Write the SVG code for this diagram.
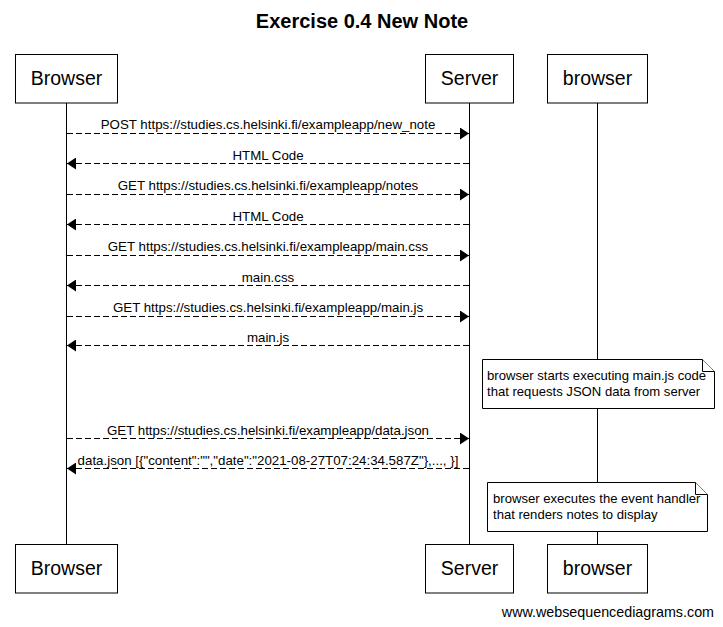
<svg xmlns="http://www.w3.org/2000/svg" width="723" height="627" viewBox="0 0 723 627">
<defs>
<style>
.box{fill:#fff;stroke:#000;stroke-width:1}
.life{stroke:#000;stroke-width:1}
.pt{font-family:"Liberation Sans",Arial,sans-serif;font-size:19.5px;text-anchor:middle;fill:#000}
.msg{stroke:#000;stroke-width:1;stroke-dasharray:6,3;fill:none}
.ml{font-family:"Liberation Sans",Arial,sans-serif;font-size:13.3px;text-anchor:middle;fill:#000}
.nt{font-family:"Liberation Sans",Arial,sans-serif;font-size:13.1px;fill:#000}
.note{fill:#fff;stroke:#000;stroke-width:1}
</style>
<marker id="ah" viewBox="0 0 9 12" refX="9" refY="6" markerWidth="9" markerHeight="12" markerUnits="userSpaceOnUse" orient="auto">
<path d="M0,0 L9,6 L0,12 Z" fill="#000"/>
</marker>
</defs>
<rect width="723" height="627" fill="#fff"/>
<text x="362" y="28" font-family="'Liberation Sans',Arial,sans-serif" font-size="20" font-weight="bold" text-anchor="middle">Exercise 0.4 New Note</text>

<g id="lifelines">
<line class="life" x1="66.5" y1="103" x2="66.5" y2="545"/>
<line class="life" x1="469.5" y1="103" x2="469.5" y2="545"/>
<line class="life" x1="597.5" y1="103" x2="597.5" y2="545"/>
</g>

<g id="Browser">
<rect class="box" x="15.5" y="54.5" width="102" height="48.5"/>
<text class="pt" x="66.5" y="85">Browser</text>
<rect class="box" x="15.5" y="544.5" width="102" height="48.5"/>
<text class="pt" x="66.5" y="575">Browser</text>
</g>
<g id="Server">
<rect class="box" x="425.5" y="54.5" width="88" height="48.5"/>
<text class="pt" x="469.5" y="85">Server</text>
<rect class="box" x="425.5" y="544.5" width="88" height="48.5"/>
<text class="pt" x="469.5" y="575">Server</text>
</g>
<g id="browser2">
<rect class="box" x="547.5" y="54.5" width="100" height="48.5"/>
<text class="pt" x="597.5" y="85">browser</text>
<rect class="box" x="547.5" y="544.5" width="100" height="48.5"/>
<text class="pt" x="597.5" y="575">browser</text>
</g>

<g id="connectors">
<line class="msg" x1="67" y1="133.5" x2="469" y2="133.5" marker-end="url(#ah)"/>
<text class="ml" x="268" y="129">POST https://studies.cs.helsinki.fi/exampleapp/new_note</text>
<line class="msg" x1="469" y1="163.5" x2="67" y2="163.5" marker-end="url(#ah)"/>
<text class="ml" x="268" y="159.5">HTML Code</text>
<line class="msg" x1="67" y1="194.5" x2="469" y2="194.5" marker-end="url(#ah)"/>
<text class="ml" x="268" y="190">GET https://studies.cs.helsinki.fi/exampleapp/notes</text>
<line class="msg" x1="469" y1="224.5" x2="67" y2="224.5" marker-end="url(#ah)"/>
<text class="ml" x="268" y="220.5">HTML Code</text>
<line class="msg" x1="67" y1="255.5" x2="469" y2="255.5" marker-end="url(#ah)"/>
<text class="ml" x="268" y="251">GET https://studies.cs.helsinki.fi/exampleapp/main.css</text>
<line class="msg" x1="469" y1="285.5" x2="67" y2="285.5" marker-end="url(#ah)"/>
<text class="ml" x="268" y="281.5">main.css</text>
<line class="msg" x1="67" y1="316.5" x2="469" y2="316.5" marker-end="url(#ah)"/>
<text class="ml" x="268" y="312">GET https://studies.cs.helsinki.fi/exampleapp/main.js</text>
<line class="msg" x1="469" y1="345.5" x2="67" y2="345.5" marker-end="url(#ah)"/>
<text class="ml" x="268" y="342">main.js</text>
<line class="msg" x1="67" y1="438.5" x2="469" y2="438.5" marker-end="url(#ah)"/>
<text class="ml" x="268" y="434.5">GET https://studies.cs.helsinki.fi/exampleapp/data.json</text>
<line class="msg" x1="469" y1="468.5" x2="67" y2="468.5" marker-end="url(#ah)"/>
<text class="ml" x="268" y="465">data.json [{"content":"","date":"2021-08-27T07:24:34.587Z"},..., }]</text>
</g>

<g id="note1">
<path class="note" d="M482.5,359.5 H702.5 L714.5,371.5 V408.5 H482.5 Z"/>
<path class="note" d="M702.5,359.5 V371.5 H714.5" fill="none"/>
<text class="nt" x="487" y="380">browser starts executing main.js code</text>
<text class="nt" x="487" y="396">that requests JSON data from server</text>
</g>
<g id="note2">
<path class="note" d="M487.5,482.5 H695.5 L707.5,494.5 V531.5 H487.5 Z"/>
<path class="note" d="M695.5,482.5 V494.5 H707.5" fill="none"/>
<text class="nt" x="493" y="503">browser executes the event handler</text>
<text class="nt" x="493" y="519">that renders notes to display</text>
</g>

<text x="714" y="617" font-family="'Liberation Sans',Arial,sans-serif" font-size="14.3" text-anchor="end">www.websequencediagrams.com</text>
</svg>
